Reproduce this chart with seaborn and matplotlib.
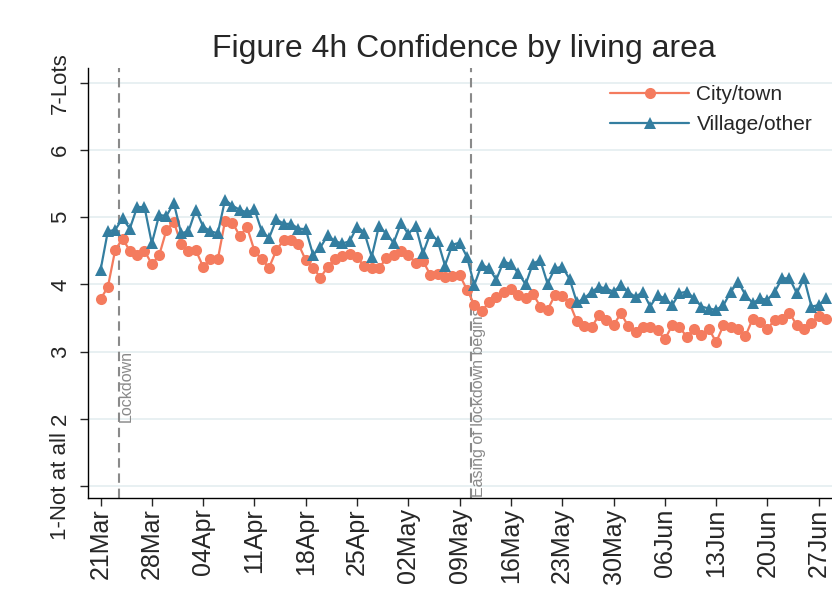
import pandas as pd
import matplotlib
matplotlib.use("Agg")
import matplotlib.pyplot as plt
import matplotlib.dates as mdates
import seaborn as sns

# daily means, 21 Mar - 28 Jun
city_town = [
    3.78, 3.96, 4.51, 4.68, 4.50, 4.44, 4.50, 4.30, 4.43, 4.81,
    4.93, 4.60, 4.49, 4.51, 4.26, 4.38, 4.37, 4.95, 4.92, 4.72,
    4.85, 4.50, 4.37, 4.25, 4.51, 4.66, 4.66, 4.60, 4.36, 4.25,
    4.10, 4.26, 4.38, 4.42, 4.45, 4.40, 4.27, 4.25, 4.24, 4.39,
    4.44, 4.50, 4.44, 4.32, 4.35, 4.14, 4.15, 4.11, 4.13, 4.14,
    3.92, 3.70, 3.60, 3.73, 3.81, 3.88, 3.93, 3.84, 3.80, 3.86,
    3.67, 3.62, 3.84, 3.82, 3.72, 3.45, 3.38, 3.36, 3.54, 3.47,
    3.39, 3.57, 3.38, 3.29, 3.36, 3.37, 3.32, 3.18, 3.39, 3.36,
    3.22, 3.34, 3.24, 3.34, 3.14, 3.39, 3.36, 3.33, 3.23, 3.49,
    3.44, 3.34, 3.47, 3.48, 3.58, 3.39, 3.34, 3.43, 3.53, 3.48,
]
village_other = [
    4.21, 4.79, 4.81, 4.98, 4.83, 5.15, 5.15, 4.61, 5.03, 5.02,
    5.21, 4.76, 4.79, 5.11, 4.86, 4.79, 4.76, 5.26, 5.17, 5.11,
    5.07, 5.12, 4.79, 4.69, 4.97, 4.90, 4.90, 4.83, 4.82, 4.44,
    4.55, 4.73, 4.64, 4.61, 4.64, 4.86, 4.77, 4.41, 4.87, 4.75,
    4.62, 4.91, 4.75, 4.87, 4.46, 4.76, 4.65, 4.28, 4.59, 4.62,
    4.41, 3.99, 4.29, 4.24, 4.07, 4.34, 4.30, 4.17, 4.00, 4.31,
    4.36, 4.01, 4.24, 4.26, 4.08, 3.73, 3.79, 3.89, 3.96, 3.94,
    3.89, 3.99, 3.89, 3.81, 3.89, 3.67, 3.84, 3.79, 3.69, 3.87,
    3.89, 3.79, 3.67, 3.64, 3.62, 3.69, 3.89, 4.04, 3.84, 3.72,
    3.79, 3.77, 3.89, 4.09, 4.09, 3.87, 4.09, 3.67, 3.69, 3.79,
]
dates = pd.date_range("2020-03-21", periods=len(city_town), freq="D")
tick_dates = pd.date_range("2020-03-21", "2020-06-27", freq="7D")
y_ticks = [1, 2, 3, 4, 5, 6, 7]
y_labels = ["1-Not at all", "2", "3", "4", "5", "6", "7-Lots"]
event_dates = pd.to_datetime(["2020-03-23 12:00", "2020-05-10 12:00"])
event_labels = ["Lockdown", "Easing of lockdown begins"]

orange = "#f47b5e"
blue = "#347ea0"

sns.set_style("white")
plt.rcParams["font.family"] = ["Liberation Sans", "DejaVu Sans"]

fig = plt.figure(figsize=(8.32, 6.05), dpi=100)
ax = fig.add_axes([88 / 832, 1 - 498 / 605, (840 - 88) / 832, (498 - 68) / 605])

ax.yaxis.grid(True, color="#e6eff1", linewidth=1.3)
ax.set_axisbelow(True)

for d, lab, ly in zip(event_dates, event_labels, [1.95, 0.84]):
    ax.axvline(d, color="#8a8a8a", linestyle=(0, (4.5, 2.8)), linewidth=1.5, zorder=1)
    ax.text(d, ly, lab, rotation=90, ha="left", va="bottom", color="#8a8a8a",
            fontsize=11.5)

sns.lineplot(x=dates, y=city_town, ax=ax, color=orange, marker="o", markersize=8,
             markeredgewidth=0, linewidth=1.6, label="City/town", zorder=3)
sns.lineplot(x=dates, y=village_other, ax=ax, color=blue, marker="^", markersize=8.5,
             markeredgewidth=0, linewidth=1.6, label="Village/other", zorder=3)

ax.set_xlim(dates[0] - pd.Timedelta(hours=41), dates[0] + pd.Timedelta(days=100.9))
ax.set_ylim(0.82, 7.22)

ax.set_xticks(tick_dates)
ax.xaxis.set_major_formatter(mdates.DateFormatter("%d%b"))
ax.set_yticks(y_ticks, y_labels)
ax.tick_params(axis="x", labelrotation=90, labelsize=18, length=6, width=1, pad=1.5,
               direction="out", bottom=True)
ax.tick_params(axis="y", labelsize=16, length=6, width=1, pad=6, direction="out", left=True)
for t in ax.get_yticklabels():
    t.set_rotation(90)
    t.set_va("center")

for s in ["top", "right"]:
    ax.spines[s].set_visible(False)
for s in ["left", "bottom"]:
    ax.spines[s].set_color("black")
    ax.spines[s].set_linewidth(1)

ax.set_xlabel("")
ax.set_ylabel("")
ax.set_title("Figure 4h Confidence by living area", fontsize=23, pad=8)

ax.legend(loc="upper left", bbox_to_anchor=(610 / 832, 1 - 85 / 605),
          bbox_transform=fig.transFigure, frameon=False, fontsize=15,
          handlelength=3.8, handletextpad=0.35, labelspacing=0.55,
          borderpad=0, borderaxespad=0)

fig.savefig("out.png", dpi=100)
